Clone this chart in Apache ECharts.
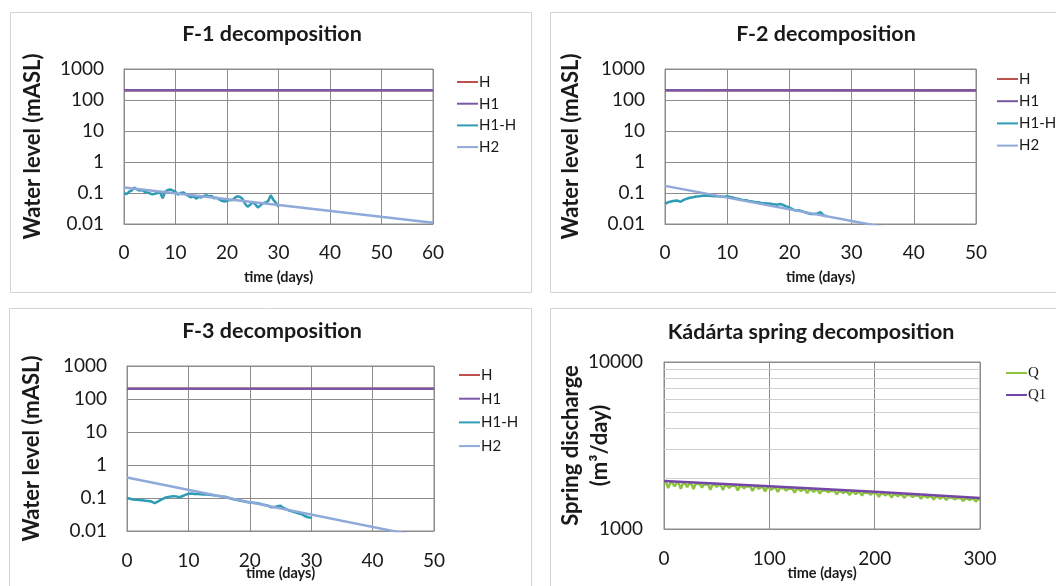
<!DOCTYPE html>
<html>
<head>
<meta charset="utf-8">
<script src="https://cdn.jsdelivr.net/npm/echarts@6/dist/echarts.min.js"></script>
<style>html,body{margin:0;padding:0;background:#fff}#c{width:1056px;height:586px}</style>
</head>
<body>
<div id="c"></div>
<script>
// ---------------- DATA ----------------
const waterLegendNames = ['H', 'H1', 'H1-H', 'H2'];
const springLegendNames = ['Q', 'Q1'];
const waterYTicks = [0.01, 0.1, 1, 10, 100, 1000];
const springYTicks = [1000, 10000];
const springMinorGrid = [2000, 3000, 4000, 5000, 6000, 7000, 8000, 9000];

// F-1
const f1H  = [[0, 205], [60, 205]];
const f1H1 = [[0, 205], [60, 205]];
const f1H1H = [[0,0.10],[0.5,0.092],[1,0.11],[1.5,0.12],[2,0.15],[2.5,0.13],[3,0.12],[3.5,0.125],[4,0.11],[4.5,0.105],
  [5,0.098],[5.5,0.09],[6,0.095],[6.5,0.1],[7,0.105],[7.5,0.068],[8,0.11],[8.5,0.125],[9,0.13],[9.5,0.12],
  [10,0.11],[10.5,0.088],[11,0.1],[11.5,0.105],[12,0.093],[12.5,0.08],[13,0.072],[13.5,0.078],[14,0.066],[14.5,0.075],
  [15,0.072],[15.5,0.08],[16,0.085],[16.5,0.078],[17,0.08],[17.5,0.068],[18,0.07],[18.5,0.062],[19,0.056],[19.5,0.053],
  [20,0.055],[20.5,0.06],[21,0.058],[21.5,0.07],[22,0.078],[22.5,0.075],[23,0.065],[23.5,0.045],[24,0.036],[24.5,0.042],
  [25,0.05],[25.5,0.043],[26,0.034],[26.5,0.04],[27,0.047],[27.5,0.05],[28,0.055],[28.5,0.085],[29,0.06],[29.5,0.048],[30,0.036]];
const f1H2 = [[0, 0.15], [30, 0.041], [60, 0.011]];

// F-2
const f2H  = [[0, 205], [50, 205]];
const f2H1 = [[0, 205], [50, 203]];
const f2H1H = [[0,0.045],[0.5,0.05],[1,0.053],[1.5,0.056],[2,0.057],[2.5,0.052],[3,0.06],[3.5,0.065],[4,0.07],[4.5,0.073],
  [5,0.077],[5.5,0.079],[6,0.082],[6.5,0.083],[7,0.082],[7.5,0.08],[8,0.079],[8.5,0.078],[9,0.077],[9.5,0.076],
  [10,0.079],[10.5,0.074],[11,0.07],[11.5,0.066],[12,0.063],[12.5,0.06],[13,0.058],[13.5,0.055],[14,0.053],[14.5,0.051],
  [15,0.05],[15.5,0.048],[16,0.047],[16.5,0.046],[17,0.045],[17.5,0.043],[18,0.042],[18.5,0.044],[19,0.041],[19.5,0.037],
  [20,0.034],[20.5,0.03],[21,0.027],[21.5,0.028],[22,0.026],[22.5,0.024],[23,0.022],[23.5,0.021],[24,0.021],[24.5,0.022],
  [25,0.024],[25.5,0.019],[26,0.018]];
const f2H2 = [[0, 0.17], [50, 0.0022]];

// F-3
const f3H  = [[0, 205], [50, 205]];
const f3H1 = [[0, 205], [50, 205]];
const f3H1H = [[0,0.1],[0.5,0.095],[1,0.09],[1.5,0.088],[2,0.087],[2.5,0.085],[3,0.083],[3.5,0.081],[4,0.078],[4.5,0.07],
  [5,0.078],[5.5,0.088],[6,0.098],[6.5,0.105],[7,0.11],[7.5,0.113],[8,0.112],[8.5,0.105],[9,0.113],[9.5,0.125],
  [10,0.135],[10.5,0.137],[11,0.133],[11.5,0.132],[12,0.13],[12.5,0.128],[13,0.127],[13.5,0.125],[14,0.122],[14.5,0.118],
  [15,0.115],[15.5,0.112],[16,0.11],[16.5,0.103],[17,0.095],[17.5,0.09],[18,0.087],[18.5,0.083],[19,0.079],[19.5,0.076],
  [20,0.073],[20.5,0.072],[21,0.07],[21.5,0.068],[22,0.064],[22.5,0.061],[23,0.058],[23.5,0.052],[24,0.053],[24.5,0.056],
  [25,0.058],[25.5,0.05],[26,0.045],[26.5,0.041],[27,0.039],[27.5,0.036],[28,0.034],[28.5,0.032],[29,0.028],[29.5,0.026],[30,0.025]];
const f3H2 = [[0, 0.42], [50, 0.0056]];

// Kádárta spring: Q sampled every 2 days (0..300)
const kDayStep = 2;
const kQ = [
  1905,1895,1760,1890,1888,1800,1885,1882,1740,1878,
  1875,1780,1870,1868,1735,1865,1862,1860,1770,1853,
  1850,1846,1720,1842,1840,1790,1836,1833,1710,1826,
  1822,1760,1818,1815,1812,1700,1808,1805,1750,1800,
  1797,1795,1690,1790,1788,1740,1783,1780,1680,1774,
  1770,1715,1766,1763,1670,1758,1755,1752,1700,1747,
  1743,1740,1650,1736,1733,1690,1728,1725,1640,1720,
  1716,1670,1712,1710,1630,1704,1702,1699,1660,1694,
  1690,1688,1615,1683,1680,1640,1675,1672,1600,1667,
  1664,1620,1660,1657,1585,1652,1649,1647,1605,1641,
  1637,1635,1560,1630,1628,1590,1622,1620,1545,1614,
  1611,1570,1606,1604,1535,1598,1596,1593,1555,1588,
  1585,1582,1515,1577,1574,1540,1569,1566,1500,1561,
  1558,1520,1553,1551,1490,1545,1543,1540,1505,1535,
  1532,1530,1470,1525,1522,1490,1517,1514,1460,1509,
  1505];
const kQ1 = [[0, 1940], [100, 1805], [200, 1670], [300, 1535]];

// ---------------- CHART ----------------
const FONT = 'Lato, "Open Sans", sans-serif';
const GRID_COLOR = '#8c8c8c';
const TEXT = '#1a1a1a';
const C = { H: '#C0504D', H1: '#7B58A6', H1H: '#2E9CB3', H2: '#8FA9DA', Q: '#8DC23F', Q1: '#7446A6' };
const logFmt = v => String(+(+v).toPrecision(1));
const TITLE_SIZE = 21.5, YNAME_SIZE = 22, TICK_SIZE = 19, XNAME_SIZE = 14.5, LEGEND_SIZE = 15;

const grids = [], xAxes = [], yAxes = [], series = [], titles = [], legends = [];

const waterPanels = [
  { title: 'F-1 decomposition', tx: 267, ty: 18, grid: { left: 124, top: 69, width: 309, height: 155 }, xMax: 60,
    H: f1H, H1: f1H1, H1H: f1H1H, H2: f1H2, lg: { left: 452, top: 69, gap: 5.7 }, xNameGap: 46, xMargin: 19, yNameGap: 80 },
  { title: 'F-2 decomposition', tx: 821, ty: 18, grid: { left: 665, top: 69, width: 311, height: 155 }, xMax: 50,
    H: f2H, H1: f2H1, H1H: f2H1H, H2: f2H2, lg: { left: 992, top: 66, gap: 6.2 }, xNameGap: 46, xMargin: 19, yNameGap: 83 },
  { title: 'F-3 decomposition', tx: 267, ty: 315, grid: { left: 127, top: 366, width: 307, height: 165 }, xMax: 50,
    H: f3H, H1: f3H1, H1H: f3H1H, H2: f3H2, lg: { left: 454, top: 362, gap: 7.7 }, xNameGap: 35, xMargin: 20, yNameGap: 84 }
];

function baseX(i, max, interval, margin, nameGap) {
  return {
    gridIndex: i, type: 'value', min: 0, max: max, interval: interval,
    name: 'time (days)', nameLocation: 'middle', nameGap: nameGap, nameMoveOverlap: false,
    nameTextStyle: { fontFamily: FONT, fontWeight: 'bold', fontSize: XNAME_SIZE, color: TEXT },
    axisLine: { show: true, lineStyle: { color: GRID_COLOR, width: 1 } },
    axisTick: { show: false },
    axisLabel: { margin: margin, fontFamily: FONT, fontSize: TICK_SIZE, color: TEXT },
    splitLine: { show: true, lineStyle: { color: GRID_COLOR, width: 1 } }
  };
}

waterPanels.forEach((p, i) => {
  grids.push(Object.assign({ show: true, borderColor: GRID_COLOR, borderWidth: 1, backgroundColor: 'transparent' }, p.grid));
  titles.push({ text: p.title, left: p.tx, top: p.ty, textAlign: 'center',
    textStyle: { fontFamily: FONT, fontWeight: 'bold', fontSize: TITLE_SIZE, color: TEXT } });
  xAxes.push(baseX(i, p.xMax, 10, p.xMargin, p.xNameGap));
  yAxes.push({
    gridIndex: i, type: 'log', logBase: 10, min: waterYTicks[0], max: waterYTicks[waterYTicks.length - 1],
    name: 'Water level (mASL)', nameLocation: 'middle', nameGap: p.yNameGap, nameMoveOverlap: false,
    nameTextStyle: { fontFamily: FONT, fontWeight: 'bold', fontSize: YNAME_SIZE, color: TEXT },
    axisLine: { show: true, lineStyle: { color: GRID_COLOR } }, axisTick: { show: false },
    axisLabel: { margin: 20, fontFamily: FONT, fontSize: TICK_SIZE, color: TEXT, formatter: logFmt },
    splitLine: { show: true, lineStyle: { color: GRID_COLOR, width: 1 } }
  });
  const mk = (name, data, color, width, z) => ({
    name, type: 'line', xAxisIndex: i, yAxisIndex: i, data, symbol: 'none', clip: true, z,
    lineStyle: { color, width }, itemStyle: { color }, animation: false
  });
  series.push(mk('H', p.H, C.H, 2.5, 2));
  series.push(mk('H1', p.H1, C.H1, 2.5, 3));
  series.push(mk('H1-H', p.H1H, C.H1H, 2.5, 4));
  series.push(mk('H2', p.H2, C.H2, 2.5, 5));
  legends.push({
    data: waterLegendNames, orient: 'vertical', left: p.lg.left, top: p.lg.top, itemGap: p.lg.gap,
    itemWidth: 21, itemHeight: 16, icon: 'path://M0,7L21,7L21,9L0,9Z',
    textStyle: { fontFamily: FONT, fontSize: LEGEND_SIZE, color: TEXT, lineHeight: 16, padding: [0, 0, 0, -4] },
    selectedMode: false
  });
});

// Kádárta panel (index 3)
grids.push({ show: true, borderColor: GRID_COLOR, borderWidth: 1, left: 664, top: 362, width: 316, height: 167 });
titles.push({ text: 'Kádárta spring decomposition', left: 806, top: 316, textAlign: 'center',
  textStyle: { fontFamily: FONT, fontWeight: 'bold', fontSize: TITLE_SIZE, color: TEXT } });
xAxes.push(baseX(3, 300, 100, 20, 37));
yAxes.push({
  gridIndex: 3, type: 'log', logBase: 10, min: springYTicks[0], max: springYTicks[1],
  name: 'Spring discharge\n(m³/day)', nameLocation: 'middle', nameGap: 50, nameMoveOverlap: false,
  nameTextStyle: { fontFamily: FONT, fontWeight: 'bold', fontSize: YNAME_SIZE, color: TEXT, lineHeight: 29 },
  axisLine: { show: true, lineStyle: { color: GRID_COLOR } }, axisTick: { show: false },
  axisLabel: { margin: 21, fontFamily: FONT, fontSize: TICK_SIZE, color: TEXT, formatter: logFmt },
  splitLine: { show: true, lineStyle: { color: GRID_COLOR, width: 1 } }
});
series.push({
  name: 'minor', type: 'line', xAxisIndex: 3, yAxisIndex: 3, data: kQ1, symbol: 'none', z: 1,
  lineStyle: { opacity: 0 }, silent: true, animation: false, legendHoverLink: false,
  markLine: { silent: true, symbol: ['none', 'none'], label: { show: false }, animation: false,
    lineStyle: { color: '#cfcfcf', width: 1, type: 'solid' },
    data: springMinorGrid.map(v => ({ yAxis: v })) }
});
series.push({
  name: 'Q', type: 'line', xAxisIndex: 3, yAxisIndex: 3, data: kQ.map((q, k) => [k * kDayStep, q]),
  symbol: 'none', z: 2, lineStyle: { color: C.Q, width: 2.5 }, itemStyle: { color: C.Q }, animation: false
});
series.push({
  name: 'Q1', type: 'line', xAxisIndex: 3, yAxisIndex: 3, data: kQ1,
  symbol: 'none', z: 3, lineStyle: { color: C.Q1, width: 2.5 }, itemStyle: { color: C.Q1 }, animation: false
});
legends.push({
  data: springLegendNames, orient: 'vertical', left: 1001, top: 360, itemGap: 6,
  itemWidth: 21, itemHeight: 16, icon: 'path://M0,7L21,7L21,9L0,9Z',
  textStyle: { fontFamily: 'Liberation Serif, serif', fontSize: LEGEND_SIZE, color: TEXT, lineHeight: 16, padding: [0, 0, 0, -4] },
  selectedMode: false
});

const panelRects = [
  { x: 10.5, y: 12.5, w: 521, h: 280 },
  { x: 550.5, y: 12.5, w: 520, h: 280 },
  { x: 9.5, y: 308.5, w: 522, h: 290 },
  { x: 550.5, y: 308.5, w: 520, h: 290 }
];

const chart = echarts.init(document.getElementById('c'));
chart.setOption({
  backgroundColor: '#ffffff',
  animation: false,
  title: titles,
  legend: legends,
  grid: grids,
  xAxis: xAxes,
  yAxis: yAxes,
  series: series,
  graphic: panelRects.map(r => ({
    type: 'rect', z: -10, silent: true,
    shape: { x: r.x, y: r.y, width: r.w, height: r.h },
    style: { fill: 'none', stroke: '#d4d4d4', lineWidth: 1 }
  }))
});
</script>
</body>
</html>
